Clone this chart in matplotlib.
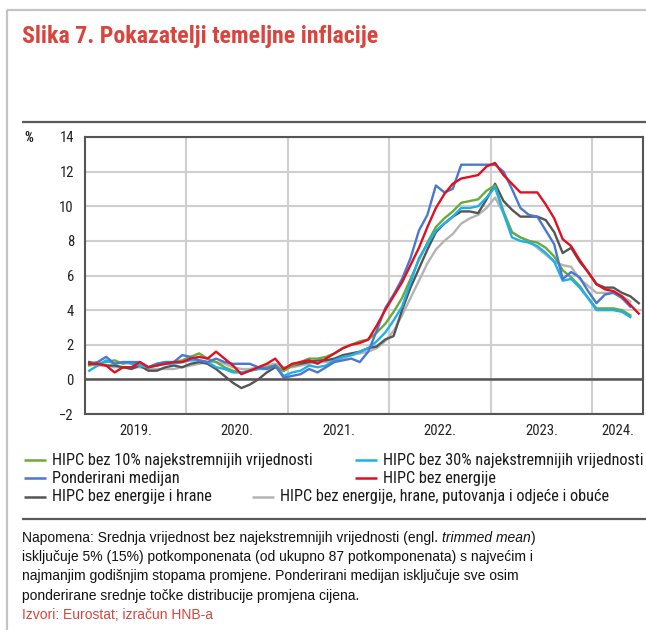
#!/usr/bin/env python
# coding:utf-8
"""plot.py - Slika 7. Pokazatelji temeljne inflacije"""

import numpy as np
import matplotlib
matplotlib.use('Agg')
import matplotlib.pyplot as plt
from matplotlib.lines import Line2D
from matplotlib import font_manager

nan = np.nan

# monthly data, Jan 2019 - Jun 2024 (y/y, %)
hipc_10 = [0.8, 0.9, 1.0, 1.1, 0.9, 1.0, 0.8, 0.7, 0.9, 1.0, 1.0, 1.1,
           1.3, 1.5, 1.2, 1.0, 0.7, 0.5, 0.4, 0.5, 0.6, 0.7, 0.8, 0.5,
           0.8, 1.0, 1.2, 1.2, 1.3, 1.5, 1.8, 2.0, 2.2, 2.3, 2.7, 3.2,
           3.9, 4.7, 5.8, 6.9, 7.9, 8.8, 9.3, 9.7, 10.2, 10.3, 10.4, 10.9,
           11.2, 9.7, 8.5, 8.2, 8.0, 7.9, 7.6, 7.1, 6.3, 5.9, 5.4, 4.7,
           4.1, 4.1, 4.1, 4.0, 3.7, nan]
hipc_30 = [0.5, 0.8, 1.1, 0.9, 1.0, 0.9, 0.8, 0.7, 0.8, 0.9, 0.9, 1.0,
           1.1, 1.1, 1.0, 0.7, 0.6, 0.4, 0.4, 0.5, 0.6, 0.6, 0.8, 0.2,
           0.4, 0.5, 0.8, 0.7, 0.8, 1.1, 1.3, 1.4, 1.6, 1.8, 2.2, 2.7,
           3.4, 4.2, 5.6, 7.0, 7.8, 8.6, 9.0, 9.4, 9.9, 9.9, 10.0, 10.5,
           11.1, 9.6, 8.2, 8.0, 7.9, 7.7, 7.3, 6.8, 5.7, 5.8, 5.3, 4.7,
           4.0, 4.0, 4.0, 3.9, 3.6, nan]
median_w = [0.9, 1.0, 1.3, 0.9, 1.0, 1.0, 1.0, 0.7, 0.9, 1.0, 1.0, 1.4,
            1.3, 1.1, 1.0, 1.2, 1.0, 0.9, 0.9, 0.9, 0.7, 0.6, 0.8, 0.1,
            0.2, 0.3, 0.6, 0.4, 0.7, 1.0, 1.1, 1.2, 1.0, 1.6, 2.8, 4.1,
            4.9, 5.8, 7.0, 8.6, 9.5, 11.2, 10.8, 11.0, 12.4, 12.4, 12.4, 12.4,
            12.4, 12.0, 11.0, 9.9, 9.5, 9.4, 8.6, 7.8, 5.8, 6.2, 5.9, 5.1,
            4.4, 4.9, 5.0, 4.7, 4.2, nan]
ex_energy = [0.9, 0.9, 0.8, 0.4, 0.7, 0.7, 1.0, 0.7, 0.8, 0.9, 1.0, 1.0,
             1.2, 1.3, 1.2, 1.6, 1.2, 0.8, 0.3, 0.5, 0.7, 0.9, 1.2, 0.6,
             0.9, 1.0, 1.1, 0.9, 1.2, 1.5, 1.8, 2.0, 2.1, 2.3, 3.1, 4.0,
             4.8, 5.6, 6.6, 7.6, 8.8, 9.9, 10.7, 11.3, 11.6, 11.7, 11.8, 12.3,
             12.5, 11.8, 11.3, 10.8, 10.8, 10.8, 10.1, 9.3, 8.1, 7.7, 6.9, 6.2,
             5.5, 5.2, 5.1, 4.8, 4.3, 3.8]
ex_energy_food = [1.0, 0.9, 0.8, 0.8, 0.7, 0.6, 0.8, 0.5, 0.5, 0.7, 0.8, 0.7,
                  0.9, 1.0, 0.9, 0.6, 0.2, -0.2, -0.5, -0.3, 0.0, 0.4, 0.7, 0.5,
                  0.8, 0.9, 1.0, 1.1, 1.1, 1.2, 1.4, 1.5, 1.6, 1.8, 1.9, 2.3,
                  2.5, 4.0, 5.3, 6.4, 7.5, 8.5, 9.0, 9.4, 9.7, 9.7, 9.6, 10.4,
                  11.3, 10.3, 9.8, 9.4, 9.4, 9.4, 9.2, 8.5, 7.3, 7.6, 6.8, 6.2,
                  5.5, 5.3, 5.3, 5.0, 4.8, 4.4]
ex_all = [0.9, 0.8, 0.8, 0.7, 0.7, 0.7, 0.7, 0.6, 0.6, 0.6, 0.6, 0.7,
          0.8, 0.9, 1.0, 1.0, 0.9, 0.7, 0.6, 0.6, 0.7, 0.8, 0.9, 0.7,
          0.7, 0.8, 0.9, 1.0, 1.0, 1.1, 1.2, 1.4, 1.5, 1.6, 1.8, 2.2,
          2.8, 3.7, 4.7, 5.7, 6.7, 7.5, 8.0, 8.4, 9.0, 9.3, 9.5, 9.9,
          10.5, 9.6, 8.5, 8.2, 8.0, 7.6, 7.2, 6.8, 6.6, 6.5, 5.8, 5.4,
          5.0, 5.0, 5.0, 4.8, 4.5, nan]

years = ['2019.', '2020.', '2021.', '2022.', '2023.', '2024.']
y_ticks = [-2, 0, 2, 4, 6, 8, 10, 12, 14]

labels = ['HIPC bez 10% najekstremnijih vrijednosti',
          'HIPC bez 30% najekstremnijih vrijednosti',
          'Ponderirani medijan',
          'HIPC bez energije',
          'HIPC bez energije i hrane',
          'HIPC bez energije, hrane, putovanja i odjeće i obuće']

W, H = 646, 630
RED_TXT = '#d9453d'


def pick_font(names):
  """Return the first installed family from names"""
  have = set(f.name for f in font_manager.fontManager.ttflist)
  for n in names:
    if n in have:
      return n
  return 'DejaVu Sans'


NARROW = pick_font(['Liberation Sans Narrow', 'Arial Narrow', 'Roboto Condensed', 'Liberation Sans'])
REGULAR = pick_font(['Liberation Sans', 'Arial'])


def fx(px):
  return px / W


def fy(py):
  return 1 - py / H


def hline(fig, x0, x1, y, color, lw):
  fig.add_artist(Line2D([fx(x0), fx(x1)], [fy(y), fy(y)], transform=fig.transFigure,
                        color=color, lw=lw, solid_capstyle='butt'))


def vline(fig, x, y0, y1, color, lw):
  fig.add_artist(Line2D([fx(x), fx(x)], [fy(y0), fy(y1)], transform=fig.transFigure,
                        color=color, lw=lw, solid_capstyle='butt'))


def main():
  plt.rcParams['font.family'] = [NARROW, 'DejaVu Sans']
  fig = plt.figure(figsize=(W / 100, H / 100), dpi=100)

  # frame of the box
  vline(fig, 7, 10, 630, '#c4c4c4', 1.6)
  hline(fig, 7, 646, 10, '#c4c4c4', 1.6)
  hline(fig, 22, 646, 122, '#5a5a5a', 1.6)
  hline(fig, 22, 646, 519, '#5a5a5a', 1.6)

  fig.text(fx(22), fy(36), 'Slika 7. Pokazatelji temeljne inflacije', color=RED_TXT,
           fontsize=17.2, fontweight='bold', va='center', ha='left')

  ax = fig.add_axes([fx(85), fy(414), fx(643) - fx(85), fy(137) - fy(414)])
  n = len(ex_energy)
  x = np.arange(n) + 0.5

  ax.plot(x, ex_all, color='#b4b4b4', lw=1.7)
  ax.plot(x, ex_energy_food, color='#555555', lw=1.7)
  ax.plot(x, hipc_10, color='#6aaa3a', lw=1.7)
  ax.plot(x, hipc_30, color='#1cb0ec', lw=1.7)
  ax.plot(x, median_w, color='#4a78d0', lw=1.7)
  ax.plot(x, ex_energy, color='#e01020', lw=1.7)

  ax.set_xlim(0, 66)
  ax.set_ylim(-2, 14)
  ax.set_yticks(y_ticks)
  ax.set_yticklabels(['\u22122' if v < 0 else str(v) for v in y_ticks])
  ax.set_xticks([12, 24, 36, 48, 60])
  ax.set_xticklabels([])
  ax.set_xticks([6, 18, 30, 42, 54, 63], minor=True)
  ax.set_xticklabels(years, minor=True)
  ax.tick_params(axis='both', which='both', length=0, labelsize=10.5, colors='#222222')
  ax.tick_params(axis='y', pad=8)
  ax.tick_params(axis='x', which='minor', pad=7)
  ax.grid(True, which='major', color='#cfcfcf', lw=1.5)
  ax.set_axisbelow(True)
  ax.axhline(0, color='#555555', lw=1.8)
  for s in ax.spines.values():
    s.set_color('#555555')
    s.set_linewidth(1.5)

  fig.text(fx(24), fy(138), '%', fontsize=10, fontweight='bold', va='center', ha='left', color='#222222')

  # legend
  colors = ['#6aaa3a', '#1cb0ec', '#4a78d0', '#e01020', '#555555', '#b4b4b4']
  spots = [(24, 460), (355, 460), (24, 478), (355, 478), (24, 497), (252, 497)]
  for (lx, ly), c, lab in zip(spots, colors, labels):
    hline(fig, lx, lx + 22, ly, c, 1.8)
    fig.text(fx(lx + 28), fy(ly), lab, fontsize=11.7, va='center', ha='left', color='#1a1a1a')

  # note
  note = [('Napomena: Srednja vrijednost bez najekstremnijih vrijednosti (engl. ', 'trimmed mean', ')'),
          ('isključuje 5% (15%) potkomponenata (od ukupno 87 potkomponenata) s najvećim i',),
          ('najmanjim godišnjim stopama promjene. Ponderirani medijan isključuje sve osim',),
          ('ponderirane srednje točke distribucije promjena cijena.',)]
  nfont = dict(family=[REGULAR, 'DejaVu Sans'], fontsize=10, color='#111111')
  for i, parts in enumerate(note):
    t = fig.text(fx(22), fy(538 + 19.2 * i), parts[0], va='center', ha='left', **nfont)
    if len(parts) > 1:
      it = ax.annotate(parts[1], xy=(1, 0), xycoords=t, va='bottom', ha='left',
                       fontstyle='italic', annotation_clip=False, **nfont)
      ax.annotate(parts[2], xy=(1, 0), xycoords=it, va='bottom', ha='left',
                  annotation_clip=False, **nfont)
  fig.text(fx(22), fy(615), 'Izvori: Eurostat; izračun HNB-a', va='center', ha='left',
           family=[REGULAR, 'DejaVu Sans'], fontsize=10, color=RED_TXT)

  fig.savefig('out.png', dpi=100)
  plt.close(fig)


if __name__ == '__main__':
  main()
